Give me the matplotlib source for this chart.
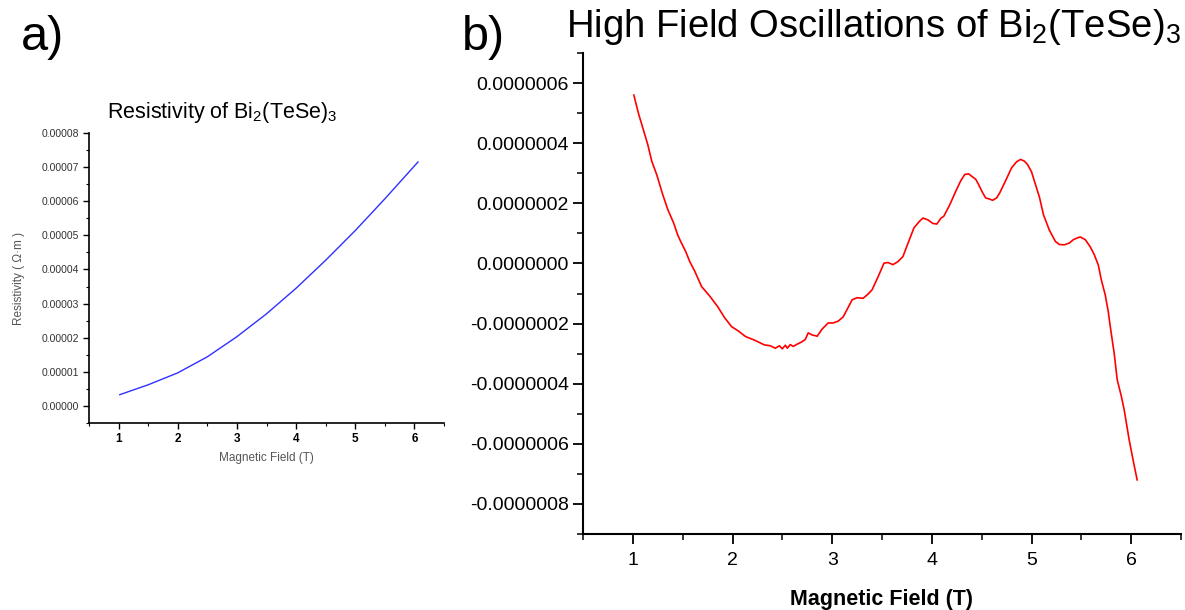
import matplotlib
matplotlib.use("Agg")
import matplotlib.pyplot as plt
from matplotlib.ticker import MultipleLocator, FormatStrFormatter

plt.rcParams['font.family'] = ['Liberation Sans', 'DejaVu Sans']
plt.rcParams['mathtext.fontset'] = 'custom'
plt.rcParams['mathtext.rm'] = 'Liberation Sans'
plt.rcParams['mathtext.it'] = 'Liberation Sans'
plt.rcParams['mathtext.default'] = 'regular'

# ---- data: panel a (resistivity) ----
field_a = [1.02, 1.5, 2.0, 2.5, 3.0, 3.5, 4.0, 4.5, 5.0, 5.5, 6.06]
resistivity = [0.33e-5, 0.62e-5, 0.97e-5, 1.44e-5, 2.03e-5, 2.70e-5, 3.45e-5,
               4.27e-5, 5.14e-5, 6.07e-5, 7.15e-5]

# ---- data: panel b (high-field oscillations) ----
field_b = [1.01, 1.06, 1.11, 1.15, 1.19, 1.24, 1.30, 1.35, 1.41, 1.45, 1.48, 1.53,
           1.57, 1.62, 1.69, 1.77, 1.85, 1.92, 1.99, 2.06, 2.13, 2.22, 2.32, 2.38,
           2.43, 2.47, 2.50, 2.53, 2.55, 2.58, 2.61, 2.64, 2.69, 2.73, 2.76, 2.80,
           2.85, 2.90, 2.96, 3.01, 3.06, 3.11, 3.15, 3.20, 3.25, 3.31, 3.36, 3.40,
           3.46, 3.52, 3.56, 3.61, 3.66, 3.71, 3.77, 3.82, 3.87, 3.91, 3.96, 4.01,
           4.05, 4.09, 4.12, 4.18, 4.24, 4.29, 4.33, 4.37, 4.40, 4.44, 4.47, 4.51,
           4.54, 4.58, 4.61, 4.65, 4.68, 4.74, 4.80, 4.85, 4.89, 4.93, 4.96, 5.00,
           5.03, 5.08, 5.12, 5.18, 5.24, 5.28, 5.33, 5.38, 5.42, 5.46, 5.49, 5.54,
           5.59, 5.63, 5.67, 5.70, 5.74, 5.77, 5.79, 5.83, 5.86, 5.90, 5.93, 5.98,
           6.02, 6.06]
oscillation = [5.60e-7, 4.95e-7, 4.40e-7, 3.95e-7, 3.40e-7, 2.95e-7, 2.29e-7,
               1.80e-7, 1.34e-7, 0.95e-7, 0.73e-7, 0.40e-7, 0.07e-7, -0.25e-7,
               -0.77e-7, -1.08e-7, -1.43e-7, -1.80e-7, -2.10e-7, -2.25e-7, -2.43e-7,
               -2.55e-7, -2.71e-7, -2.74e-7, -2.82e-7, -2.74e-7, -2.84e-7, -2.72e-7,
               -2.82e-7, -2.70e-7, -2.76e-7, -2.70e-7, -2.62e-7, -2.53e-7, -2.31e-7,
               -2.38e-7, -2.42e-7, -2.18e-7, -1.98e-7, -1.98e-7, -1.92e-7, -1.78e-7,
               -1.53e-7, -1.21e-7, -1.14e-7, -1.16e-7, -1.02e-7, -0.88e-7, -0.45e-7,
               0.01e-7, 0.03e-7, -0.04e-7, 0.06e-7, 0.23e-7, 0.75e-7, 1.18e-7,
               1.38e-7, 1.51e-7, 1.45e-7, 1.33e-7, 1.31e-7, 1.50e-7, 1.57e-7,
               1.95e-7, 2.40e-7, 2.75e-7, 2.96e-7, 2.98e-7, 2.90e-7, 2.80e-7,
               2.62e-7, 2.35e-7, 2.18e-7, 2.14e-7, 2.10e-7, 2.18e-7, 2.34e-7,
               2.75e-7, 3.18e-7, 3.38e-7, 3.46e-7, 3.40e-7, 3.29e-7, 3.05e-7,
               2.73e-7, 2.20e-7, 1.62e-7, 1.10e-7, 0.73e-7, 0.63e-7, 0.62e-7,
               0.68e-7, 0.79e-7, 0.85e-7, 0.88e-7, 0.79e-7, 0.55e-7, 0.29e-7,
               -0.05e-7, -0.54e-7, -1.05e-7, -1.60e-7, -2.09e-7, -3.00e-7, -3.87e-7,
               -4.40e-7, -4.87e-7, -5.87e-7, -6.55e-7, -7.20e-7]

xticks = [1, 2, 3, 4, 5, 6]

W, H = 1185, 610
fig = plt.figure(figsize=(W / 100, H / 100), dpi=100)

def box(l, t, r, b):
    return [l / W, 1 - b / H, (r - l) / W, (b - t) / H]

def style(ax, lw):
    for s in ('top', 'right'):
        ax.spines[s].set_visible(False)
    for s in ('left', 'bottom'):
        ax.spines[s].set_linewidth(lw)
    ax.xaxis.set_minor_locator(MultipleLocator(0.5))

# ---- panel a ----
axa = fig.add_axes(box(89, 133, 444, 423))
axa.plot(field_a, resistivity, color='#3030ff', lw=1.0)
axa.set_xlim(0.5, 6.5)
axa.set_ylim(-0.5e-5, 8e-5)
axa.set_xticks(xticks)
axa.yaxis.set_major_locator(MultipleLocator(1e-5))
axa.yaxis.set_minor_locator(MultipleLocator(0.5e-5))
axa.yaxis.set_major_formatter(FormatStrFormatter('%.5f'))
style(axa, 1.2)
axa.tick_params(which='major', length=4, width=1, labelsize=7.5, pad=3)
axa.tick_params(which='minor', length=2.5, width=0.8)
for t in axa.get_yticklabels():
    t.set_color('#333333')
for t in axa.get_xticklabels():
    t.set_fontweight('bold')
    t.set_fontsize(8.5)
axa.set_xlabel('Magnetic Field (T)', fontsize=8.5, color='#555555', labelpad=5)
axa.set_ylabel('Resistivity ( Ω·m )', fontsize=8.5, color='#555555', labelpad=12)
fig.text(107 / W, 1 - 118 / H, r'Resistivity of Bi$_2$(TeSe)$_3$',
         fontsize=15.5, ha='left', va='baseline')

# ---- panel b ----
axb = fig.add_axes(box(583, 53, 1181, 534))
axb.plot(field_b, oscillation, color='#ff0000', lw=1.2)
axb.set_xlim(0.5, 6.5)
axb.set_ylim(-9e-7, 7e-7)
axb.set_xticks(xticks)
axb.yaxis.set_major_locator(MultipleLocator(2e-7))
axb.yaxis.set_minor_locator(MultipleLocator(1e-7))
axb.yaxis.set_major_formatter(FormatStrFormatter('%.7f'))
style(axb, 1.5)
axb.tick_params(which='major', length=7, width=1.3, labelsize=14, pad=3)
axb.tick_params(axis='x', which='major', pad=6)
axb.tick_params(which='minor', length=4, width=1.1)
axb.set_xlabel('Magnetic Field (T)', fontsize=15.5, fontweight='bold', labelpad=14)

fig.text(566 / W, 1 - 37 / H, r'High Field Oscillations of Bi$_2$(TeSe)$_3$',
         fontsize=27.5, ha='left', va='baseline')
fig.text(43 / W, 1 - 37 / H, 'a)', fontsize=35, ha='center', va='center')
fig.text(483 / W, 1 - 37 / H, 'b)', fontsize=35, ha='center', va='center')

fig.savefig('out.png', dpi=100)
